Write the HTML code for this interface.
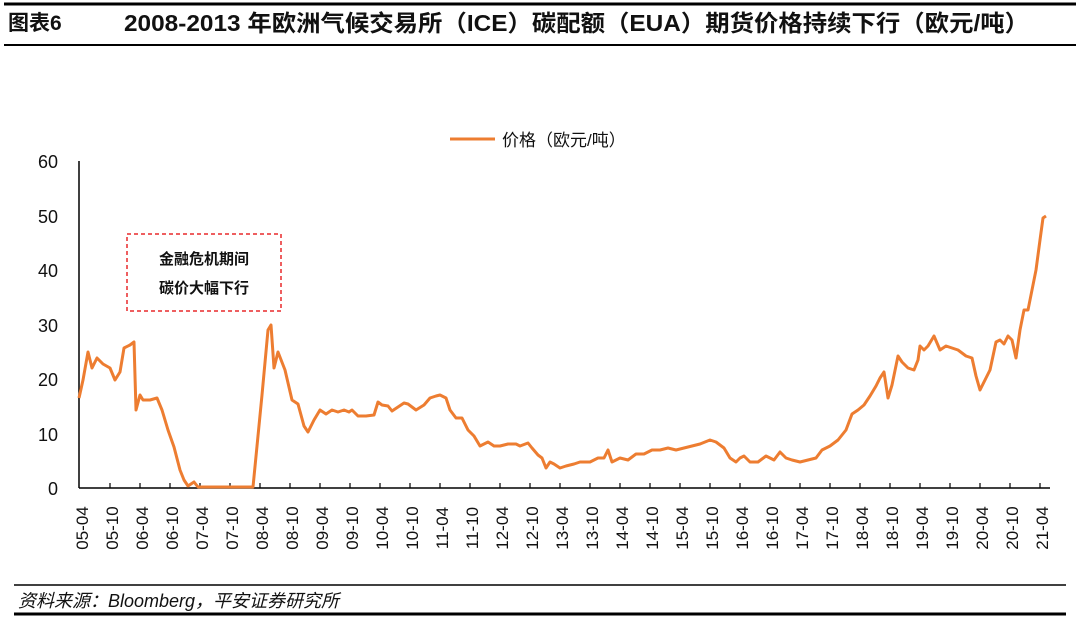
<!DOCTYPE html>
<html><head><meta charset="utf-8"><style>
body{margin:0;background:#fff;}
svg{display:block;font-family:"Liberation Sans","Noto Sans CJK SC",sans-serif;}
</style></head><body>
<svg width="1080" height="618" viewBox="0 0 1080 618">
<rect x="0" y="0" width="1080" height="618" fill="#fff"/>
<line x1="4" y1="4" x2="1076" y2="4" stroke="#000" stroke-width="3"/>
<text x="8" y="30" font-size="21" font-weight="bold" fill="#111">图表6</text>
<text x="124" y="31" font-size="23" font-weight="bold" fill="#111" textLength="905" lengthAdjust="spacingAndGlyphs">2008-2013 年欧洲气候交易所（ICE）碳配额（EUA）期货价格持续下行（欧元/吨）</text>
<line x1="4" y1="45" x2="1076" y2="45" stroke="#000" stroke-width="2"/>

<line x1="450" y1="139" x2="495" y2="139" stroke="#ED7D31" stroke-width="3"/>
<text x="502" y="146" font-size="17" fill="#111">价格（欧元/吨）</text>

<g font-size="18" fill="#111" text-anchor="end">
<text x="58" y="495">0</text><text x="58" y="441">10</text><text x="58" y="386">20</text>
<text x="58" y="332">30</text><text x="58" y="277">40</text><text x="58" y="223">50</text><text x="58" y="168">60</text>
</g>
<line x1="79" y1="161" x2="79" y2="488" stroke="#000" stroke-width="1.5"/>
<line x1="79" y1="488" x2="1050" y2="488" stroke="#000" stroke-width="1.5"/>
<g stroke="#000" stroke-width="1.2" id="ticks"></g>
<g id="xl" font-size="17" fill="#111"></g>

<rect x="127" y="234" width="154" height="77" fill="none" stroke="#E8282B" stroke-width="1.5" stroke-dasharray="4,3"/>
<text x="204" y="264" font-size="15" font-weight="bold" text-anchor="middle" fill="#111">金融危机期间</text>
<text x="204" y="293" font-size="15" font-weight="bold" text-anchor="middle" fill="#111">碳价大幅下行</text>

<polyline fill="none" stroke="#ED7D31" stroke-width="3" stroke-linejoin="round" points="79,398 83,380 88,352 92,368 97,358 103,364 110,368 115,380 120,372 124,348 130,345 134,342 136,410 140,395 143,400 150,400 157,398 162,410 168,430 174,447 180,470 184,480 188,486 194,482 198,487 230,487 253,487 262,395 268,330 271,325 274,368 278,352 285,370 292,400 298,404 304,426 308,432 314,420 320,410 326,414 332,410 338,412 344,410 349,412 352,410 358,416 366,416 374,415 378,402 382,405 388,406 392,411 398,407 404,403 408,404 416,410 424,405 430,398 436,396 440,395 446,398 450,410 456,418 462,418 468,430 474,436 480,446 488,442 494,446 500,446 508,444 516,444 520,446 528,443 532,448 538,455 542,458 546,468 550,462 554,464 560,468 566,466 574,464 580,462 590,462 598,458 604,458 608,450 612,462 620,458 628,460 636,454 644,454 652,450 660,450 668,448 676,450 684,448 692,446 700,444 710,440 716,442 724,448 730,458 736,462 740,458 744,456 750,462 758,462 766,456 774,460 780,452 786,458 792,460 800,462 808,460 816,458 822,450 830,446 838,440 846,430 852,414 858,410 864,405 870,396 876,386 880,378 884,372 888,398 892,385 898,356 902,362 908,368 914,370 918,360 920,346 924,350 928,346 934,336 940,350 946,346 952,348 958,350 966,356 972,358 976,376 980,390 986,378 990,370 996,342 1000,340 1004,344 1008,336 1012,340 1016,358 1020,330 1024,310 1028,310 1032,290 1036,270 1040,240 1043,218 1046,216"/>

<line x1="14" y1="585" x2="1066" y2="585" stroke="#000" stroke-width="1.5"/>
<text x="18" y="607" font-size="18" font-style="italic" fill="#111">资料来源：Bloomberg，平安证券研究所</text>
<line x1="14" y1="614" x2="1066" y2="614" stroke="#000" stroke-width="3"/>
</svg>
<script>
var ns="http://www.w3.org/2000/svg",t=document.getElementById("ticks"),xl=document.getElementById("xl");
for(var i=0;i<33;i++){
 var x=80+30*i;
 if(i>0){var l=document.createElementNS(ns,"line");l.setAttribute("x1",x);l.setAttribute("x2",x);l.setAttribute("y1",483);l.setAttribute("y2",488);t.appendChild(l);}
 var yr=5+Math.floor(i/2),m=i%2?"10":"04";
 var s=(yr<10?"0":"")+yr+"-"+m;
 var tx=document.createElementNS(ns,"text");
 var cx=88+30*i;
 tx.setAttribute("transform","translate("+cx+",528) rotate(-90)");
 tx.setAttribute("text-anchor","middle");
 tx.textContent=s;xl.appendChild(tx);
}
</script>
</body></html>
